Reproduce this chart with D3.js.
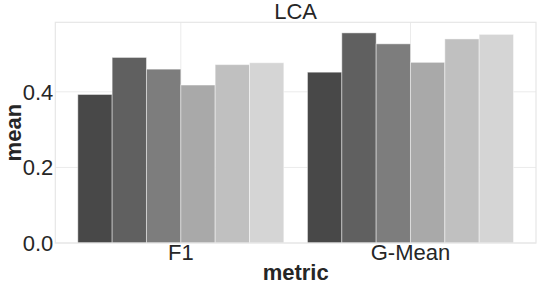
<!DOCTYPE html>
<html>
<head>
<meta charset="utf-8">
<script src="https://cdn.jsdelivr.net/npm/d3@7"></script>
<style>
  body { margin: 0; background: #fff; }
  text { font-family: "Liberation Sans", Arial, sans-serif; fill: #262626; }
</style>
</head>
<body>
<div id="chart"></div>
<script>
const metrics = ["F1", "G-Mean"];
const models = ["m1", "m2", "m3", "m4", "m5", "m6"];
const f1Values = [0.393, 0.491, 0.460, 0.418, 0.472, 0.477];
const gmeanValues = [0.452, 0.556, 0.527, 0.478, 0.540, 0.552];
const yTicks = [0.0, 0.2, 0.4];
const greys = ["#484848", "#606060", "#7d7d7d", "#a9a9a9", "#c0c0c0", "#d5d5d5"];

const width = 538, height = 284;
const margin = {top: 22.3, right: 2, bottom: 41, left: 55.3};

const data = [];
metrics.forEach((m, i) => {
  const vals = i === 0 ? f1Values : gmeanValues;
  models.forEach((h, j) => data.push({metric: m, model: h, mean: vals[j]}));
});

const svg = d3.select("#chart")
  .append("svg")
    .attr("width", width)
    .attr("height", height);

const xScale = d3.scaleBand()
  .domain(metrics)
  .range([margin.left, width - margin.right])
  .paddingInner(0)
  .paddingOuter(0.0465);

const x1 = d3.scaleBand()
  .domain(models)
  .range([0, xScale.bandwidth() * 0.897]);

const yScale = d3.scaleLinear()
  .domain([0, 0.584])
  .range([height - margin.bottom, margin.top]);

const colorScale = d3.scaleOrdinal().domain(models).range(greys);

// grid
svg.append("g")
  .selectAll("line")
  .data(yTicks)
  .join("line")
    .attr("x1", margin.left)
    .attr("x2", width - margin.right)
    .attr("y1", d => yScale(d))
    .attr("y2", d => yScale(d))
    .attr("stroke", "#ebebeb")
    .attr("stroke-width", 1);

svg.append("g")
  .selectAll("line")
  .data(metrics)
  .join("line")
    .attr("x1", d => xScale(d) + xScale.bandwidth() / 2)
    .attr("x2", d => xScale(d) + xScale.bandwidth() / 2)
    .attr("y1", margin.top)
    .attr("y2", height - margin.bottom)
    .attr("stroke", "#ebebeb")
    .attr("stroke-width", 1);

// bars
const groupOffset = xScale.bandwidth() * (1 - 0.897) / 2;
svg.append("g")
  .selectAll("rect")
  .data(data)
  .join("rect")
    .attr("x", d => xScale(d.metric) + groupOffset + x1(d.model))
    .attr("y", d => yScale(d.mean))
    .attr("width", x1.bandwidth())
    .attr("height", d => yScale(0) - yScale(d.mean))
    .attr("fill", d => colorScale(d.model))
    .attr("stroke", "rgba(255,255,255,0.45)")
    .attr("stroke-width", 1);

// frame
svg.append("rect")
  .attr("x", margin.left)
  .attr("y", margin.top)
  .attr("width", width - margin.right - margin.left)
  .attr("height", height - margin.bottom - margin.top)
  .attr("fill", "none")
  .attr("stroke", "#e6e6e6")
  .attr("stroke-width", 1.2);

// y ticks
svg.append("g")
  .selectAll("text")
  .data(yTicks)
  .join("text")
    .text(d => d3.format(".1f")(d))
    .attr("x", margin.left - 2)
    .attr("y", d => yScale(d))
    .attr("text-anchor", "end")
    .attr("dy", "0.36em")
    .style("font-size", "22px");

// x ticks
svg.append("g")
  .selectAll("text")
  .data(metrics)
  .join("text")
    .text(d => d)
    .attr("x", d => xScale(d) + xScale.bandwidth() / 2)
    .attr("y", 260)
    .attr("text-anchor", "middle")
    .style("font-size", "22px");

// labels
svg.append("text")
  .text("metric")
  .attr("x", (margin.left + width - margin.right) / 2)
  .attr("y", 280)
  .attr("text-anchor", "middle")
  .style("font-size", "22px")
  .style("font-weight", "bold");

svg.append("text")
  .text("mean")
  .attr("transform", `translate(20.5, ${(margin.top + height - margin.bottom) / 2}) rotate(-90)`)
  .attr("text-anchor", "middle")
  .style("font-size", "22px")
  .style("font-weight", "bold");

svg.append("text")
  .text("LCA")
  .attr("x", (margin.left + width - margin.right) / 2)
  .attr("y", 19)
  .attr("text-anchor", "middle")
  .style("font-size", "22px");
</script>
</body>
</html>
